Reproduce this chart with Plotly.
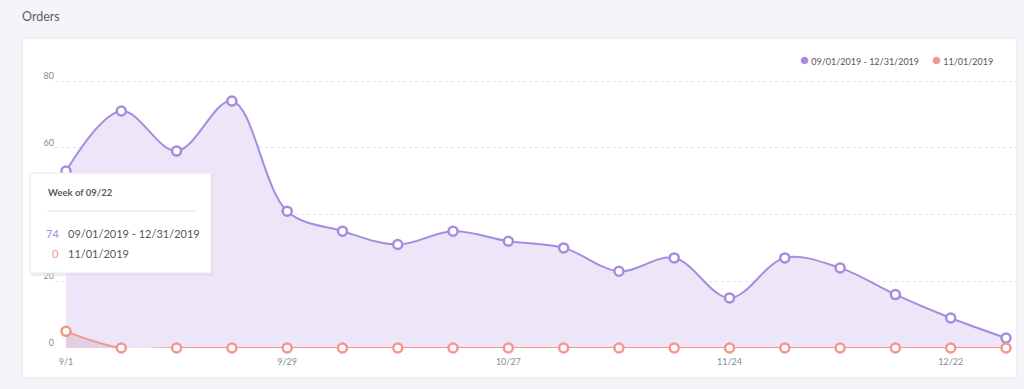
import plotly.graph_objects as go

weeks = ["9/1", "9/8", "9/15", "9/22", "9/29", "10/6", "10/13", "10/20", "10/27",
         "11/3", "11/10", "11/17", "11/24", "12/1", "12/8", "12/15", "12/22", "12/29"]
range_label = "09/01/2019 - 12/31/2019"
single_label = "11/01/2019"
range_orders = [53, 71, 59, 74, 41, 35, 31, 35, 32, 30, 23, 27, 15, 27, 24, 16, 9, 3]
single_orders = [5, 0, 0, 0, 0, 0, 0, 0, 0, 0, 0, 0, 0, 0, 0, 0, 0, 0]
tick_weeks = weeks[::4]
y_ticks = [0, 20, 40, 60, 80]

PURPLE = "#a68ce0"
RED = "#f2978e"
TEXT = "#55555f"
FONT = "Lato, 'Open Sans', sans-serif"

W, H = 1024, 389
L, R, T, B = 55, 7, 48, 41
pw, ph = W - L - R, H - T - B


def px(x):
    return (x - L) / pw


def py(y):
    return (H - B - y) / ph


fig = go.Figure()

fig.add_trace(go.Scatter(
    x=weeks, y=range_orders, mode="lines+markers", name=range_label,
    line=dict(color=PURPLE, width=2, shape="spline", smoothing=1.0),
    fill="tozeroy", fillcolor="rgba(237,230,248,1)",
    marker=dict(symbol="circle", size=9, color="white", line=dict(color=PURPLE, width=2.5)),
    cliponaxis=False, showlegend=False, hoverinfo="skip"))

fig.add_trace(go.Scatter(
    x=weeks, y=single_orders, mode="lines+markers", name=single_label,
    line=dict(color=RED, width=2, shape="spline", smoothing=1.0),
    fill="tozeroy", fillcolor="rgba(215,180,200,0.45)",
    marker=dict(symbol="circle", size=9, color="white", line=dict(color=RED, width=2.5)),
    cliponaxis=False, showlegend=False, hoverinfo="skip"))

shapes = [
    # white panel
    dict(type="rect", xref="paper", yref="paper", x0=px(22), x1=px(1017), y0=py(378), y1=py(38),
         fillcolor="white", line=dict(color="#e6e6ee", width=1), layer="below"),
    # tooltip box (with soft shadow)
    dict(type="rect", xref="paper", yref="paper", x0=px(31), x1=px(214), y0=py(276), y1=py(174),
         fillcolor="rgba(220,220,228,0.5)", line=dict(width=0), layer="above"),
    dict(type="rect", xref="paper", yref="paper", x0=px(30), x1=px(211), y0=py(273), y1=py(173),
         fillcolor="white", line=dict(color="#e8e8ee", width=1), layer="above"),
    dict(type="line", xref="paper", yref="paper", x0=px(47), x1=px(196), y0=py(211), y1=py(211),
         line=dict(color="#e4e4ea", width=1), layer="above"),
]

BULLET = "<span style='font-size:15px;color:{c}'>●</span> "

annotations = [
    dict(text="<b>Week of 09/22</b>", xref="paper", yref="paper", x=px(46), y=py(192),
         xanchor="left", yanchor="middle", showarrow=False, font=dict(size=9.5, color="#5a5a66", family=FONT)),
    dict(text=str(range_orders[3]), xref="paper", yref="paper", x=px(61), y=py(233),
         xanchor="right", yanchor="middle", showarrow=False, font=dict(size=11, color=PURPLE, family=FONT)),
    dict(text=range_label, xref="paper", yref="paper", x=px(66), y=py(233),
         xanchor="left", yanchor="middle", showarrow=False, font=dict(size=11, color=TEXT, family=FONT)),
    dict(text=str(single_orders[3]), xref="paper", yref="paper", x=px(61), y=py(253),
         xanchor="right", yanchor="middle", showarrow=False, font=dict(size=11, color=RED, family=FONT)),
    dict(text=single_label, xref="paper", yref="paper", x=px(66), y=py(253),
         xanchor="left", yanchor="middle", showarrow=False, font=dict(size=11, color=TEXT, family=FONT)),
    # legend
    dict(text=BULLET.format(c=PURPLE) + range_label, xref="paper", yref="paper",
         x=px(798), y=py(59), xanchor="left", yanchor="middle", showarrow=False,
         font=dict(size=9, color=TEXT, family=FONT)),
    dict(text=BULLET.format(c=RED) + single_label, xref="paper", yref="paper",
         x=px(930), y=py(59), xanchor="left", yanchor="middle", showarrow=False,
         font=dict(size=9, color=TEXT, family=FONT)),
]

fig.update_layout(
    width=W, height=H,
    margin=dict(l=L, r=R, t=T, b=B, autoexpand=False),
    paper_bgcolor="#f4f5f8", plot_bgcolor="white",
    font=dict(family=FONT, color="#8a8a9a", size=9),
    title=dict(text="Orders", x=22 / W, y=1 - 17 / H, xref="container", yref="container",
               xanchor="left", yanchor="middle", font=dict(size=12.5, color="#5f5f6b", family=FONT)),
    showlegend=False,
    shapes=shapes, annotations=annotations,
    xaxis=dict(type="category", categoryorder="array", categoryarray=weeks,
               range=[-(66 - L) / 55.29, 17 + (1017 - 1006) / 55.29],
               tickmode="array", tickvals=tick_weeks, ticktext=tick_weeks,
               showgrid=False, zeroline=False, showline=False, ticks="",
               ticklabelstandoff=7, tickfont=dict(size=9, color="#8a8a9a")),
    yaxis=dict(range=[0, ph / ((348 - 81) / 80)], tickmode="array", tickvals=y_ticks,
               showgrid=True, gridcolor="#e2e2ea", griddash="dot", gridwidth=1,
               zeroline=False, showline=False, ticks="", ticklabelshift=-5, ticklabelstandoff=0,
               tickfont=dict(size=9, color="#8a8a9a")),
)

fig.write_html("out.html", config={"displayModeBar": False},
               post_script="document.body.style.margin='0';document.body.style.padding='0';")
